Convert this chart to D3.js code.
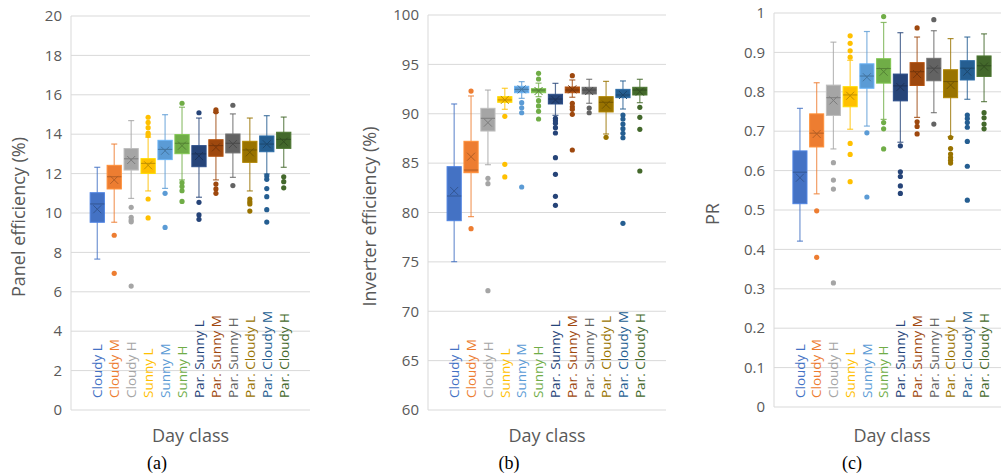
<!DOCTYPE html>
<html>
<head>
<meta charset="utf-8">
<script src="https://cdn.jsdelivr.net/npm/d3@7"></script>
<style>
  body { margin: 0; background: #fff; }
  svg { display: block; font-family: "Open Sans", sans-serif; }
</style>
</head>
<body>
<svg id="chart" width="1001" height="475"></svg>
<script>
// day classes, one box per class
const dayClasses = ["Cloudy L", "Cloudy M", "Cloudy H", "Sunny L", "Sunny M", "Sunny H",
  "Par. Sunny L", "Par. Sunny M", "Par. Sunny H", "Par. Cloudy L", "Par. Cloudy M", "Par. Cloudy H"];
const classColors = ["#4472C4", "#ED7D31", "#A5A5A5", "#FFC000", "#5B9BD5", "#70AD47",
  "#264478", "#9E480E", "#636363", "#997300", "#255E91", "#43682B"];

// [lower whisker, q1, median, q3, upper whisker, mean]
const panelEffBoxes = [
  [7.66, 9.53, 10.46, 11.03, 12.32, 10.19],
  [9.53, 11.22, 11.84, 12.42, 13.5, 11.68],
  [10.74, 12.18, 12.75, 13.27, 14.69, 12.69],
  [11.12, 12.01, 12.52, 12.76, 13.85, 12.42],
  [11.25, 12.71, 13.23, 13.69, 14.99, 13.16],
  [11.68, 13.01, 13.54, 13.98, 15.37, 13.42],
  [10.8, 12.35, 13.0, 13.42, 14.82, 12.89],
  [11.68, 12.88, 13.42, 13.72, 15.1, 13.33],
  [11.81, 13.05, 13.54, 14.01, 15.03, 13.5],
  [11.12, 12.57, 13.2, 13.64, 14.82, 13.08],
  [11.98, 13.11, 13.5, 13.91, 14.94, 13.49],
  [12.32, 13.28, 13.74, 14.1, 14.87, 13.62]
];
const panelEffOutliers = [
  [],
  [8.87, 6.94],
  [10.29, 9.78, 9.64, 9.55, 6.29],
  [14.86, 14.6, 14.33, 14.05, 13.94, 10.71, 9.75],
  [11.0, 9.27],
  [15.57, 11.54, 11.34, 11.13, 10.59],
  [15.09, 10.54, 9.9, 9.68],
  [15.23, 15.14, 11.47, 11.22, 11.0],
  [15.47, 11.39],
  [10.71, 10.57, 10.46, 10.1],
  [11.88, 11.71, 11.24, 10.83, 10.17, 9.54],
  [11.84, 11.59, 11.28]
];

const inverterEffBoxes = [
  [75.02, 79.17, 81.67, 84.64, 90.99, 82.18],
  [79.58, 84.03, 84.3, 87.21, 91.8, 85.65],
  [84.84, 88.25, 89.54, 90.55, 92.4, 89.1],
  [90.45, 91.16, 91.4, 91.73, 92.58, 91.4],
  [91.56, 92.13, 92.47, 92.78, 93.25, 92.47],
  [91.73, 92.13, 92.4, 92.54, 93.1, 92.3],
  [89.84, 90.99, 91.49, 91.97, 93.08, 91.39],
  [91.67, 92.13, 92.4, 92.71, 93.42, 92.47],
  [91.06, 92.0, 92.4, 92.68, 93.49, 92.3],
  [87.95, 90.18, 91.16, 91.73, 93.28, 90.92],
  [90.48, 91.63, 91.9, 92.47, 93.32, 91.9],
  [91.12, 91.9, 92.4, 92.68, 93.49, 92.24]
];
const inverterEffOutliers = [
  [],
  [92.3, 78.36],
  [83.46, 82.92, 72.08],
  [89.74, 84.88, 83.6],
  [91.12, 90.61, 90.1, 82.58],
  [94.09, 93.52, 91.32, 90.79, 90.25, 89.47],
  [89.54, 89.3, 89.03, 88.59, 88.05, 85.55, 83.87, 81.64, 80.73],
  [93.86, 91.06, 90.71, 90.45, 89.94, 86.33],
  [90.58, 90.1],
  [87.61],
  [89.87, 89.47, 88.96, 88.49, 88.02, 87.57, 78.9],
  [90.65, 89.64, 88.42, 84.2]
];

const prBoxes = [
  [0.421, 0.516, 0.596, 0.65, 0.758, 0.582],
  [0.541, 0.66, 0.695, 0.744, 0.823, 0.693],
  [0.655, 0.74, 0.785, 0.817, 0.926, 0.778],
  [0.705, 0.762, 0.792, 0.813, 0.88, 0.79],
  [0.713, 0.809, 0.84, 0.871, 0.953, 0.837],
  [0.73, 0.822, 0.859, 0.884, 0.976, 0.851],
  [0.672, 0.777, 0.815, 0.845, 0.95, 0.812],
  [0.735, 0.816, 0.851, 0.874, 0.939, 0.845],
  [0.747, 0.828, 0.86, 0.885, 0.955, 0.857],
  [0.686, 0.785, 0.826, 0.856, 0.935, 0.817],
  [0.781, 0.83, 0.86, 0.879, 0.939, 0.851],
  [0.775, 0.839, 0.866, 0.891, 0.947, 0.864]
];
const prOutliers = [
  [],
  [0.498, 0.38],
  [0.62, 0.576, 0.553, 0.315],
  [0.942, 0.923, 0.904, 0.888, 0.669, 0.641, 0.572],
  [0.696, 0.533],
  [0.991, 0.722, 0.706, 0.655],
  [0.663, 0.597, 0.585, 0.561, 0.542],
  [0.962, 0.724, 0.712, 0.693],
  [0.983, 0.718],
  [0.684, 0.656, 0.642, 0.633, 0.626, 0.619],
  [0.741, 0.732, 0.722, 0.71, 0.674, 0.611, 0.525],
  [0.747, 0.734, 0.718, 0.706]
];

const panelEffTicks = d3.range(0, 21, 2);
const inverterTicks = d3.range(60, 101, 5);
const prTicks = [0, 0.1, 0.2, 0.3, 0.4, 0.5, 0.6, 0.7, 0.8, 0.9, 1];

const panels = [
  { boxes: panelEffBoxes, outliers: panelEffOutliers, ticks: panelEffTicks, fmt: d => d,
    domain: [0, 20], yTop: 16, yBottom: 410, left: 71, right: 310,
    title: "Panel efficiency (%)", titleX: 19, tag: "(a)", tagX: 157 },
  { boxes: inverterEffBoxes, outliers: inverterEffOutliers, ticks: inverterTicks, fmt: d => d,
    domain: [60, 100], yTop: 15, yBottom: 410, left: 428, right: 666,
    title: "Inverter efficiency (%)", titleX: 370, tag: "(b)", tagX: 509 },
  { boxes: prBoxes, outliers: prOutliers, ticks: prTicks, fmt: d => d3.format("~g")(d),
    domain: [0, 1], yTop: 13, yBottom: 407, left: 774, right: 1010,
    title: "PR", titleX: 713, tag: "(c)", tagX: 852 }
];

const svg = d3.select("#chart");

panels.forEach(p => {
  const g = svg.append("g");
  const y = d3.scaleLinear().domain(p.domain).range([p.yBottom, p.yTop]);
  const x = d3.scaleBand().domain(dayClasses).range([p.left, p.right])
    .paddingInner(0.1).paddingOuter(1.1);
  const bw = x.bandwidth();

  // gridlines
  g.selectAll("line.grid").data(p.ticks).enter().append("line")
    .attr("x1", p.left).attr("x2", p.right)
    .attr("y1", d => y(d)).attr("y2", d => y(d))
    .attr("stroke", "#d9d9d9").attr("stroke-width", 1);
  g.append("line")
    .attr("x1", p.left).attr("x2", p.left)
    .attr("y1", p.yTop).attr("y2", p.yBottom)
    .attr("stroke", "#d9d9d9");

  // tick labels
  g.selectAll("text.tick").data(p.ticks).enter().append("text")
    .attr("x", p.left - 9).attr("y", d => y(d)).attr("dy", "0.35em")
    .attr("text-anchor", "end").attr("font-size", 15).attr("fill", "#595959")
    .text(p.fmt);

  // rotated class labels
  g.selectAll("text.cls").data(dayClasses).enter().append("text")
    .attr("transform", d => `translate(${x(d) + bw / 2 + 4.8},398) rotate(-90)`)
    .attr("font-size", 13.5).attr("fill", (d, i) => classColors[i])
    .text(d => d);

  // boxes
  const box = g.selectAll("g.box").data(p.boxes).enter().append("g")
    .attr("transform", (d, i) => `translate(${x(dayClasses[i])},0)`);
  const col = (d, i) => classColors[i];
  box.append("line")
    .attr("x1", bw / 2).attr("x2", bw / 2)
    .attr("y1", d => y(d[0])).attr("y2", d => y(d[4]))
    .attr("stroke", col).attr("stroke-opacity", 0.75).attr("stroke-width", 1.2);
  [0, 4].forEach(k => {
    box.append("line")
      .attr("x1", bw / 2 - 3).attr("x2", bw / 2 + 3)
      .attr("y1", d => y(d[k])).attr("y2", d => y(d[k]))
      .attr("stroke", col).attr("stroke-opacity", 0.8).attr("stroke-width", 1.2);
  });
  box.append("rect")
    .attr("x", 0.5).attr("width", bw - 1)
    .attr("y", d => y(d[3])).attr("height", d => y(d[1]) - y(d[3]))
    .attr("fill", col)
    .attr("stroke", (d, i) => d3.color(classColors[i]).brighter(0.4))
    .attr("stroke-width", 1);
  box.append("line")
    .attr("x1", 0.5).attr("x2", bw - 0.5)
    .attr("y1", d => y(d[2])).attr("y2", d => y(d[2]))
    .attr("stroke", (d, i) => d3.color(classColors[i]).darker(0.8)).attr("stroke-width", 1);
  box.append("path")
    .attr("d", d => {
      const cx = bw / 2, cy = y(d[5]), s = 4;
      return `M${cx - s},${cy - s}L${cx + s},${cy + s}M${cx - s},${cy + s}L${cx + s},${cy - s}`;
    })
    .attr("stroke", (d, i) => d3.color(classColors[i]).darker(0.8)).attr("stroke-width", 1)
    .attr("fill", "none");

  // outliers
  p.outliers.forEach((arr, i) => {
    g.selectAll(null).data(arr).enter().append("circle")
      .attr("cx", x(dayClasses[i]) + bw / 2).attr("cy", d => y(d))
      .attr("r", 2.6).attr("fill", classColors[i]);
  });

  // titles
  svg.append("text")
    .attr("transform", `translate(${p.titleX + 6},${(p.yTop + p.yBottom) / 2 + 4}) rotate(-90)`)
    .attr("text-anchor", "middle").attr("font-size", 18).attr("fill", "#595959")
    .text(p.title);
  svg.append("text")
    .attr("x", (p.left + p.right) / 2).attr("y", 442)
    .attr("text-anchor", "middle").attr("font-size", 18).attr("fill", "#595959")
    .text("Day class");
  svg.append("text")
    .attr("x", p.tagX).attr("y", 469)
    .attr("text-anchor", "middle").attr("font-size", 18)
    .attr("font-family", "'Liberation Serif', serif").attr("fill", "#000")
    .text(p.tag);
});
</script>
</body>
</html>
